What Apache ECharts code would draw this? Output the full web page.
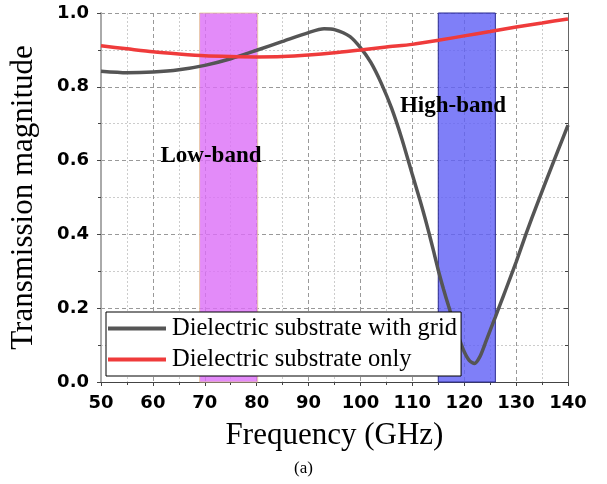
<!DOCTYPE html>
<html style="height: 100%">
<head>
    <meta charset="utf-8">
    <script src="https://cdn.jsdelivr.net/npm/echarts@6/dist/echarts.min.js"></script>
</head>
<body style="height: 100%; margin: 0; background: #fff">
    <div id="main" style="width: 607px; height: 484px"></div>
    <script type="text/javascript">
        // frequency points (GHz) and transmission magnitude
        var gridFreq = [50, 55, 60, 65, 70, 75, 80, 85, 90, 93, 95, 98, 100, 102, 104, 106, 108, 110, 111, 112, 113, 114, 115, 116, 117, 118, 119, 120, 121, 122, 123, 124, 125, 126, 127, 128, 130, 132, 134, 136, 138, 140];
        var gridVals = [0.842, 0.838, 0.840, 0.846, 0.858, 0.876, 0.899, 0.923, 0.947, 0.957, 0.955, 0.936, 0.906, 0.866, 0.810, 0.742, 0.658, 0.562, 0.515, 0.467, 0.415, 0.360, 0.303, 0.252, 0.205, 0.160, 0.118, 0.082, 0.058, 0.050, 0.068, 0.103, 0.140, 0.176, 0.213, 0.250, 0.325, 0.405, 0.480, 0.553, 0.625, 0.696];

        var onlyFreq = [50, 55, 60, 65, 70, 75, 80, 85, 90, 95, 100, 105, 110, 115, 120, 125, 130, 135, 140];
        var onlyVals = [0.911, 0.903, 0.895, 0.889, 0.884, 0.882, 0.881, 0.882, 0.886, 0.892, 0.900, 0.908, 0.915, 0.926, 0.938, 0.950, 0.962, 0.973, 0.984];

        var lowBand = [69, 80.2];
        var highBand = [115, 126];

        var seriesNames = ['Dielectric substrate with grid', 'Dielectric substrate only'];

        var myChart = echarts.init(document.getElementById('main'));

        function pairs(xs, ys) {
            var out = [];
            for (var i = 0; i < xs.length; i++) out.push([xs[i], ys[i]]);
            return out;
        }

        var tickFont = { fontFamily: 'DejaVu Sans', fontWeight: 'bold', fontSize: 18, color: '#000' };
        var serif = 'Liberation Serif';

        var option = {
            animation: false,
            grid: { left: 101, top: 13, right: 39, bottom: 102 },
            legend: {
                data: seriesNames,
                orient: 'vertical',
                left: 106,
                top: 312,
                backgroundColor: '#fff',
                borderColor: '#000',
                borderWidth: 1,
                borderRadius: 0,
                padding: [4, 4, 4, 2],
                itemGap: 6,
                itemWidth: 58,
                itemHeight: 4,
                icon: 'rect',
                textStyle: { fontFamily: serif, fontSize: 24.5, color: '#000', padding: [0, 0, 0, 1] }
            },
            xAxis: [{
                type: 'value',
                min: 50, max: 140, interval: 10,
                name: 'Frequency (GHz)',
                nameLocation: 'middle',
                nameGap: 38,
                nameTextStyle: { fontFamily: serif, fontSize: 31, color: '#000' },
                axisLine: { lineStyle: { color: '#444', width: 1 } },
                axisTick: { length: 4, lineStyle: { color: '#444' } },
                minorTick: { show: true, splitNumber: 2, length: 3, lineStyle: { color: '#444' } },
                axisLabel: Object.assign({ margin: 12 }, tickFont),
                splitLine: { show: true, lineStyle: { color: '#999', type: [4, 3] } },
                minorSplitLine: { show: true, lineStyle: { color: '#ccc', type: [2, 2] } }
            }, {
                type: 'value', position: 'top',
                min: 50, max: 140, interval: 10,
                axisLine: { lineStyle: { color: '#444' } },
                axisTick: { inside: true, length: 4, lineStyle: { color: '#444' } },
                axisLabel: { show: false },
                splitLine: { show: false }
            }],
            yAxis: [{
                type: 'value',
                min: 0, max: 1, interval: 0.2,
                name: 'Transmission magnitude',
                nameLocation: 'middle',
                nameGap: 62,
                nameTextStyle: { fontFamily: serif, fontSize: 31, color: '#000' },
                axisLine: { show: true, lineStyle: { color: '#aaa', width: 2 } },
                axisTick: { show: true, length: 4, lineStyle: { color: '#444' } },
                minorTick: { show: true, splitNumber: 2, length: 3, lineStyle: { color: '#444' } },
                axisLabel: Object.assign({ margin: 12, formatter: function (v) { return v.toFixed(1); } }, tickFont),
                splitLine: { show: true, lineStyle: { color: '#999', type: [4, 3] } },
                minorSplitLine: { show: true, lineStyle: { color: '#ccc', type: [2, 2] } }
            }, {
                type: 'value', position: 'right',
                min: 0, max: 1, interval: 0.2,
                axisLine: { show: true, lineStyle: { color: '#666' } },
                axisTick: { show: true, inside: true, length: 4, lineStyle: { color: '#444' } },
                minorTick: { show: true, splitNumber: 2, length: 3, lineStyle: { color: '#444' } },
                axisLabel: { show: false },
                splitLine: { show: false }
            }],
            graphic: [
                { type: 'text', left: 'center', top: 460, style: { text: '(a)', fontFamily: serif, fontSize: 17, fill: '#000' } },
                { type: 'text', x: 211, y: 156, style: { text: 'Low-band', fontFamily: serif, fontWeight: 'bold', fontSize: 23, fill: '#000', align: 'center', verticalAlign: 'middle' }, z: 10 },
                { type: 'text', x: 453, y: 106, style: { text: 'High-band', fontFamily: serif, fontWeight: 'bold', fontSize: 23, fill: '#000', align: 'center', verticalAlign: 'middle' }, z: 10 }
            ],
            series: [{
                name: seriesNames[0],
                type: 'line',
                smooth: 0.25,
                showSymbol: false,
                z: 3,
                lineStyle: { color: '#555', width: 3.5 },
                itemStyle: { color: '#555' },
                data: pairs(gridFreq, gridVals),
                markArea: {
                    silent: true,
                    z: 1,
                    data: [
                        [{ xAxis: lowBand[0], itemStyle: { color: 'rgba(220,110,248,0.8)', borderColor: 'rgba(230,200,150,0.8)', borderWidth: 1 } }, { xAxis: lowBand[1] }],
                        [{ xAxis: highBand[0], itemStyle: { color: 'rgba(95,95,246,0.8)', borderColor: '#2a2a90', borderWidth: 1 } }, { xAxis: highBand[1] }]
                    ]
                }
            }, {
                name: seriesNames[1],
                type: 'line',
                smooth: 0.25,
                showSymbol: false,
                z: 4,
                lineStyle: { color: '#ef3b3b', width: 3.5 },
                itemStyle: { color: '#ef3b3b' },
                data: pairs(onlyFreq, onlyVals)
            }]
        };

        myChart.setOption(option);
    </script>
</body>
</html>
